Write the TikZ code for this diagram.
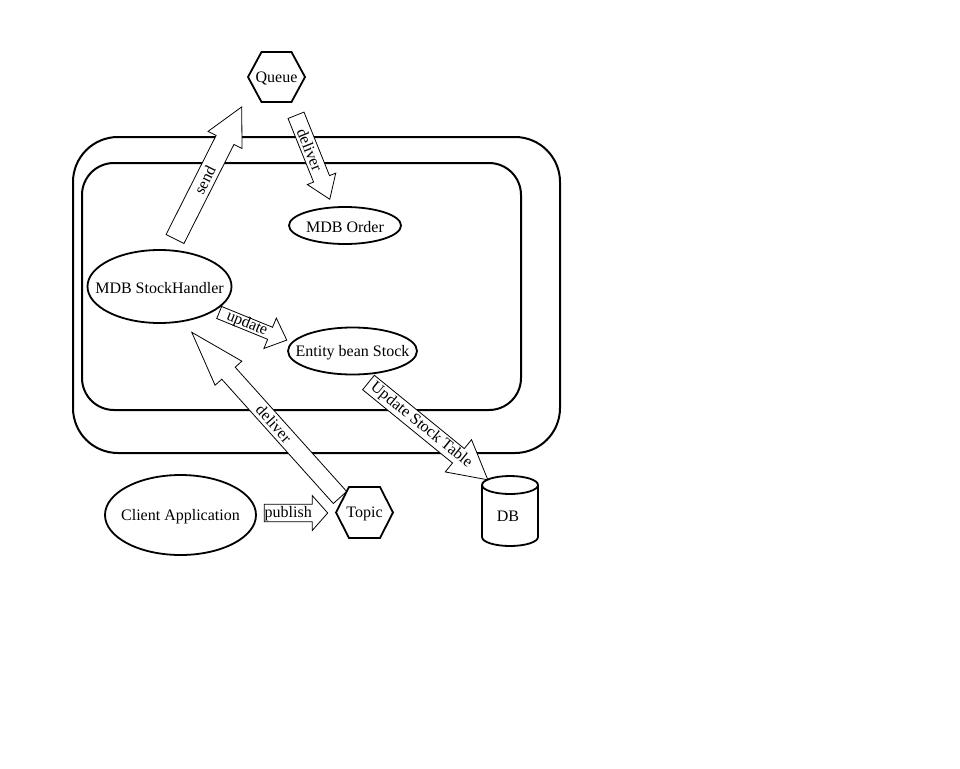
\documentclass[tikz,border=0pt]{standalone}
\usepackage{fontspec}
\setmainfont{Liberation Serif}
\usetikzlibrary{shapes.geometric}
\newcommand\fatarrowpath[4]{%
  \draw[fat] (0,-#2) -- ({#1-#4},-#2) -- ({#1-#4},-#3) -- (#1,0) -- ({#1-#4},#3) -- ({#1-#4},#2) -- (0,#2) -- cycle;}
\begin{document}
\begin{tikzpicture}[x=1pt,y=1pt,
  font=\fontsize{16}{19}\selectfont,
  frame/.style={line width=2pt},
  ell/.style={draw, line width=1.8pt},
  fat/.style={draw, line width=0.8pt, fill=white, line join=miter},
  lbl/.style={inner sep=0pt, transform shape},
  nm/.style={inner sep=0pt, yshift=-1.5pt},
  hex/.style={draw, line width=1.8pt, fill=white, line join=miter},
  cyl/.style={draw, line width=1.8pt}]
\useasboundingbox (0,0) rectangle (960,-768);

% containers
\draw[frame, rounded corners=45pt] (73,-137) rectangle (560,-453);
\draw[frame, rounded corners=32pt] (82,-163) rectangle (521,-410);

% fat arrows
\begin{scope}[shift={(175,-239)}, rotate=63.2]
  \fatarrowpath{148}{10}{19}{37}
  \node[lbl] (send) at (66,0) {send};
\end{scope}
\begin{scope}[shift={(296,-115.3)}, rotate=-68.1]
  \fatarrowpath{90.5}{8.6}{15.3}{22}
  \node[lbl] (deliverq) at (37,0) {deliver};
\end{scope}
\begin{scope}[shift={(219.2,-312.5)}, rotate=-22.2]
  \fatarrowpath{73}{6.5}{16.4}{18}
  \node[lbl] (update) at (30,0) {update};
\end{scope}
\begin{scope}[shift={(340,-497.5)}, rotate=131.9]
  \fatarrowpath{222}{9}{18}{55}
  \node[lbl, rotate=180] (delivert) at (99,0) {deliver};
\end{scope}
\begin{scope}[shift={(368.5,-382.5)}, rotate=-39.2]
  \fatarrowpath{154}{9.3}{20.8}{38}
  \node[lbl] (ust) at (68,0) {Update Stock Table};
\end{scope}
\begin{scope}[shift={(264.3,-513)}]
  \fatarrowpath{63.4}{8.7}{17.4}{15.4}
  \node[lbl, yshift=-1pt] (publish) at (24,0) {publish};
\end{scope}

% ellipses
\coordinate (orderc) at (345,-225.5);
\draw[ell] (orderc) ellipse [x radius=56, y radius=18.5];
\node[nm] (order) at (orderc) {MDB Order};
\coordinate (handlerc) at (159.5,-286.5);
\draw[ell] (handlerc) ellipse [x radius=72, y radius=36.5];
\node[nm] (handler) at (handlerc) {MDB StockHandler};
\coordinate (entityc) at (352.5,-351);
\draw[ell] (entityc) ellipse [x radius=64.5, y radius=23.5];
\node[nm] (entity) at (entityc) {Entity bean Stock};
\coordinate (clientc) at (180.5,-515);
\draw[ell] (clientc) ellipse [x radius=75.5, y radius=40];
\node[nm] (client) at (clientc) {Client Application};

% hexagons
\coordinate (qc) at (276.5,-77);
\draw[hex] ([shift={(-28.5,0)}]qc) -- ([shift={(-15,25)}]qc) -- ([shift={(15,25)}]qc) -- ([shift={(28.5,0)}]qc) -- ([shift={(15,-25)}]qc) -- ([shift={(-15,-25)}]qc) -- cycle;
\node[nm] (queue) at (qc) {Queue};
\coordinate (tc) at (364.5,-512.5);
\draw[hex] ([shift={(-28.5,0)}]tc) -- ([shift={(-15.5,25.5)}]tc) -- ([shift={(15.5,25.5)}]tc) -- ([shift={(28.5,0)}]tc) -- ([shift={(15.5,-25.5)}]tc) -- ([shift={(-15.5,-25.5)}]tc) -- cycle;
\node[nm] (topic) at (tc) {Topic};

% database cylinder
\coordinate (dbc) at (510,-511);
\draw[cyl, fill=white] ([shift={(-28,26)}]dbc) -- ([shift={(-28,-26)}]dbc) arc[start angle=180, end angle=360, x radius=28, y radius=9] -- ([shift={(28,26)}]dbc);
\draw[cyl] ([shift={(0,26)}]dbc) ellipse [x radius=28, y radius=9];
\node[nm] (db) at ([shift={(-2,-4)}]dbc) {DB};
\end{tikzpicture}
\end{document}
